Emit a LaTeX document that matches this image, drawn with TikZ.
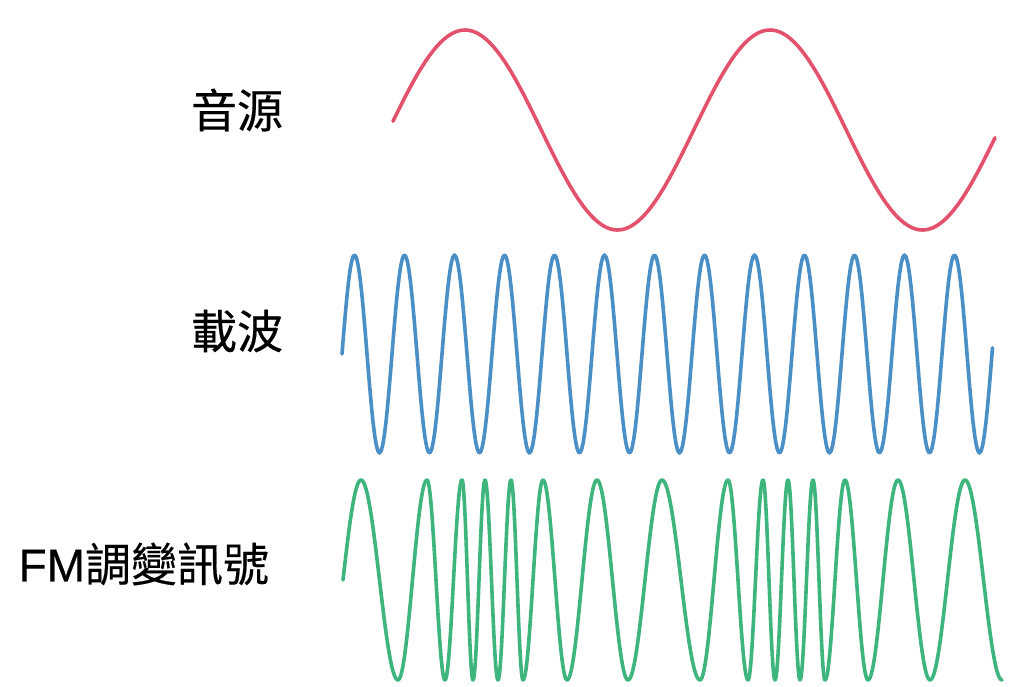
\documentclass[tikz,border=0pt]{standalone}
\usepackage{fontspec}
\newfontfamily\cjk[FakeBold=0.4]{Noto Sans CJK TC}
\newfontfamily\latin[FakeBold=0.4]{Liberation Sans}
\usepackage{tikz}
\usetikzlibrary{positioning}
\usepackage{xcolor}

\definecolor{srcred}{HTML}{E2526C}
\definecolor{carrierblue}{HTML}{4A8FC6}
\definecolor{fmgreen}{HTML}{3DB57C}

\begin{document}
\begin{tikzpicture}[x=1pt,y=-1pt,
    every node/.style={inner sep=0pt, outer sep=0pt, anchor=east, font=\cjk\fontsize{46}{50}\selectfont},
    wave/.style={line width=3.6pt, line cap=round, line join=round},
    srcwave/.style={wave, draw=srcred},
    carrierwave/.style={wave, draw=carrierblue},
    fmwave/.style={wave, draw=fmgreen}]

  \useasboundingbox (0,0) rectangle (1010,686);

  \node(src)     at (283,110) {音源};
  \node(carrier) at (283,331) {載波};
  \node(fm)      at (269,564) {{\latin FM}調變訊號};

  \draw[srcwave] plot[domain=393:995,samples=200] (\x,{130-100*sin((\x-388.75)/305*360)});

  \draw[carrierwave] plot[domain=342:992.5,samples=400] (\x,{354-99*sin((\x-342)/50*360)});

  % FM signal: one half wave between each pair of extrema
  \draw[fmwave] plot[domain=343:361,samples=20] (\x,{580-100*sin((\x-343)/18*90)});
  \foreach \a/\b/\s in {361/398/1,398/427/-1,427/445/1,445/462/-1,462/473/1,473/485/-1,%
      485/498/1,498/511/-1,511/523/1,523/543/-1,543/567/1,567/597/-1,597/628/1,628/662/-1,%
      662/700/1,700/728/-1,728/748/1,748/763/-1,763/775/1,775/788/-1,788/800/1,800/813/-1,%
      813/825/1,825/845/-1,845/868/1,868/898/-1,898/930/1,930/965/-1,965/1002/1}
    \draw[fmwave] plot[domain=\a:\b,samples=30] (\x,{580-100*\s*cos((\x-\a)/(\b-\a)*180)});

\end{tikzpicture}
\end{document}
